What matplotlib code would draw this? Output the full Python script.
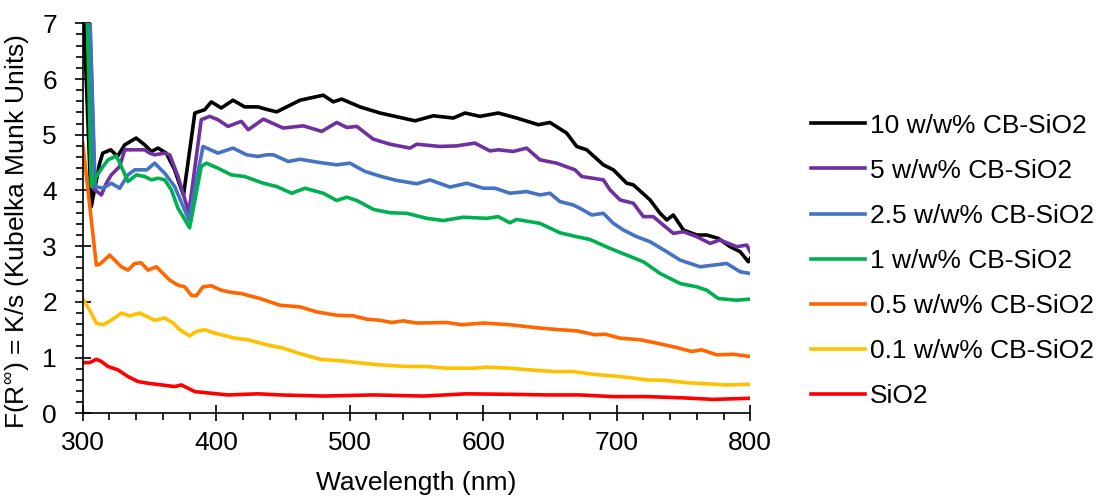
import matplotlib
matplotlib.use("Agg")
import matplotlib.pyplot as plt

plt.rcParams['font.family'] = ['Liberation Sans', 'DejaVu Sans']
plt.rcParams['mathtext.fontset'] = 'custom'
plt.rcParams['mathtext.rm'] = 'Liberation Sans'

# 10 w/w% CB-SiO2
wl_10 = [300, 306.4, 312.7, 315, 321, 326, 331.5, 340, 346.4, 351.4, 356.4, 362.6, 368.9,
         372, 375.5, 384, 391.4, 396.3, 403.8, 412.6, 421.3, 431.3, 437, 445.3, 462.8, 480.2,
         487.7, 494, 507.7, 522.7, 537.7, 549, 562.6, 577.6, 586.4, 597.6, 611.3, 625.1,
         641.3, 650, 662.5, 670, 677.5, 690, 697.5, 707.5, 712.5, 725, 732.5, 737.5, 742.4,
         750, 760, 767.4, 776.1, 785, 792.5, 798.6, 800]
f_10 = [7.6, 3.71, 4.49, 4.67, 4.73, 4.61, 4.82, 4.94, 4.82, 4.70, 4.76, 4.67, 4.37,
        4.15, 3.92, 5.39, 5.45, 5.59, 5.48, 5.62, 5.50, 5.50, 5.46, 5.41, 5.62, 5.71,
        5.59, 5.64, 5.50, 5.39, 5.31, 5.25, 5.34, 5.30, 5.39, 5.33, 5.39, 5.30,
        5.18, 5.22, 5.03, 4.79, 4.73, 4.46, 4.37, 4.13, 4.10, 3.83, 3.59, 3.47, 3.56,
        3.29, 3.20, 3.20, 3.14, 2.99, 2.90, 2.72, 2.78]

# 5 w/w% CB-SiO2
wl_5 = [303, 309, 314, 317.7, 321.4, 327.7, 331.5, 336.4, 346.4, 350.2, 353.9, 361.4, 365.2,
        371.4, 379.5, 388.8, 395.1, 401.3, 408.8, 418.8, 424, 435.3, 450.2, 465.2, 479,
        490.3, 497.8, 505.3, 517.7, 530.2, 545.2, 550.2, 567.6, 580.1, 593.8, 605, 611.3,
        622.5, 632.5, 642.5, 655, 668.8, 673.8, 690, 695, 702.5, 712.5, 720, 727.4, 742.4,
        750, 760, 769.9, 777.4, 789.9, 797.4, 800]
f_5 = [9.0, 4.01, 3.92, 4.13, 4.28, 4.43, 4.73, 4.73, 4.73, 4.67, 4.64, 4.67, 4.64,
       4.25, 3.60, 5.27, 5.33, 5.27, 5.15, 5.24, 5.09, 5.28, 5.12, 5.16, 5.06,
       5.22, 5.13, 5.15, 4.92, 4.83, 4.76, 4.83, 4.79, 4.80, 4.85, 4.71, 4.73,
       4.70, 4.76, 4.55, 4.49, 4.37, 4.25, 4.19, 4.01, 3.83, 3.77, 3.53, 3.53, 3.23,
       3.26, 3.17, 3.05, 3.11, 2.99, 3.02, 2.90]

# 2.5 w/w% CB-SiO2
wl_25 = [303, 309.3, 315.2, 321.4, 327.7, 333.9, 338.9, 348, 353.9, 361.4, 368.9, 379.5,
         390.1, 401.3, 412.6, 422.8, 431.3, 437.8, 442.8, 454, 462.8, 477.8, 490.3, 500.2,
         511.5, 525.2, 535.2, 550.2, 560.1, 575.1, 587.6, 600.1, 608.8, 620, 632.5, 642.5,
         650, 657.5, 667.4, 672.5, 681.3, 690, 697.5, 705, 715, 725, 737.5, 747.5, 762.5,
         772.4, 782.4, 792.5, 800]
f_25 = [9.0, 4.07, 4.04, 4.13, 4.04, 4.28, 4.37, 4.37, 4.49, 4.31, 4.07, 3.47,
        4.79, 4.67, 4.76, 4.64, 4.61, 4.64, 4.64, 4.52, 4.56, 4.50, 4.46, 4.49,
        4.34, 4.24, 4.18, 4.12, 4.19, 4.06, 4.13, 4.04, 4.04, 3.95, 3.98, 3.92,
        3.95, 3.80, 3.74, 3.68, 3.56, 3.59, 3.41, 3.29, 3.17, 3.08, 2.90, 2.75, 2.63,
        2.66, 2.69, 2.54, 2.51]

# 1 w/w% CB-SiO2
wl_1 = [301, 306.4, 310.2, 315.2, 319, 325.2, 328.9, 333.9, 340.2, 346.4, 351.4, 356.4,
        361.4, 366.4, 371.4, 380.1, 388.8, 392.6, 401.3, 411.3, 421.3, 435.3, 445.3, 456.5,
        466.5, 480.2, 490.3, 497.8, 505.3, 517.7, 530.2, 542.7, 557.7, 570.1, 585.1, 602.6,
        611.3, 620, 625, 642.5, 657.5, 670, 680, 695, 707.5, 720, 732.5, 747.5, 760, 767.4,
        776.1, 789.9, 800]
f_1 = [9.5, 4.07, 4.25, 4.43, 4.55, 4.62, 4.43, 4.16, 4.28, 4.25, 4.19, 4.22,
       4.19, 4.01, 3.68, 3.33, 4.43, 4.49, 4.40, 4.28, 4.25, 4.13, 4.07, 3.95,
       4.04, 3.95, 3.82, 3.88, 3.82, 3.66, 3.60, 3.59, 3.50, 3.46, 3.52, 3.50,
       3.53, 3.42, 3.48, 3.41, 3.24, 3.17, 3.12, 2.96, 2.84, 2.72, 2.51, 2.33, 2.27, 2.21,
       2.06, 2.03, 2.05]

# 0.5 w/w% CB-SiO2
wl_05 = [300, 310.2, 313, 320.2, 328.9, 333.9, 338.9, 343.9, 348.9, 355.2, 358.9, 365.2,
         371.4, 376.4, 381.3, 385.1, 390.1, 396.3, 403.8, 411.3, 418.8, 432.8, 447.8, 462.8,
         475.3, 490.3, 502.7, 512.7, 522.7, 531.5, 540.2, 550.2, 572.7, 583.9, 600.1, 620,
         642.5, 657.5, 670, 683.8, 691.3, 702.5, 717.5, 730, 745, 756.2, 763.7, 774.9,
         787.4, 800]
f_05 = [4.85, 2.66, 2.68, 2.84, 2.63, 2.57, 2.69, 2.70, 2.57, 2.63, 2.54, 2.39,
        2.30, 2.27, 2.12, 2.11, 2.27, 2.29, 2.21, 2.17, 2.15, 2.06, 1.94, 1.91,
        1.82, 1.76, 1.75, 1.69, 1.67, 1.63, 1.66, 1.62, 1.63, 1.59, 1.62, 1.59,
        1.53, 1.50, 1.48, 1.41, 1.42, 1.35, 1.32, 1.26, 1.18, 1.11, 1.14, 1.05,
        1.06, 1.02]

# 0.1 w/w% CB-SiO2
wl_01 = [300, 305.2, 310.2, 315.2, 321.4, 328.9, 335.2, 342.7, 353.9, 361.4, 367.7, 372.7,
         380.1, 385.1, 391.4, 398.9, 413.8, 423.8, 437.8, 450.2, 461.5, 477.8, 495.2, 505.3,
         522.7, 542.7, 557.7, 572.7, 592.6, 602.6, 620, 635, 652.5, 667.4, 682.5, 697.5,
         710, 722.5, 737.5, 752.4, 767.4, 782.4, 800]
f_01 = [2.06, 1.85, 1.62, 1.59, 1.67, 1.80, 1.75, 1.80, 1.67, 1.71, 1.62, 1.50,
        1.39, 1.47, 1.50, 1.44, 1.35, 1.32, 1.23, 1.17, 1.08, 0.97, 0.94, 0.91,
        0.87, 0.84, 0.84, 0.81, 0.81, 0.83, 0.81, 0.78, 0.75, 0.75, 0.70, 0.67,
        0.64, 0.60, 0.59, 0.55, 0.53, 0.51, 0.52]

# SiO2
wl_si = [300, 305.2, 310.2, 314, 319, 326.4, 333.9, 341.4, 348.9, 358.9, 368.9, 373.9,
         383.9, 396.3, 408.8, 431.3, 447.8, 480.2, 517.7, 555.2, 587.6, 622.5, 647.5,
         672.5, 697.5, 722.5, 747.5, 772.4, 800]
f_si = [0.91, 0.91, 0.97, 0.93, 0.84, 0.78, 0.66, 0.57, 0.54, 0.51, 0.48, 0.51,
        0.39, 0.36, 0.33, 0.35, 0.33, 0.31, 0.33, 0.31, 0.35, 0.34, 0.33,
        0.33, 0.30, 0.30, 0.28, 0.25, 0.27]

series = [
    ("10 w/w% CB-SiO2", wl_10, f_10, "#000000"),
    ("5 w/w% CB-SiO2", wl_5, f_5, "#7030A0"),
    ("2.5 w/w% CB-SiO2", wl_25, f_25, "#4472C4"),
    ("1 w/w% CB-SiO2", wl_1, f_1, "#00B050"),
    ("0.5 w/w% CB-SiO2", wl_05, f_05, "#FF6600"),
    ("0.1 w/w% CB-SiO2", wl_01, f_01, "#FFC000"),
    ("SiO2", wl_si, f_si, "#FF0000"),
]

fs = 19

fig = plt.figure(figsize=(11, 4.96), dpi=100)
ax = fig.add_axes([0.0752, 0.1667, 0.6068, 0.7863])

for label, x, y, c in series:
    ax.plot(x, y, color=c, lw=2.6, label=label)

ax.set_xlim(300, 800)
ax.set_ylim(0, 7)
ax.set_xticks(range(300, 801, 100))
ax.set_xticks(range(300, 801, 20), minor=True)
ax.set_yticks(range(0, 8))
ax.set_yticks([i * 0.2 for i in range(36)], minor=True)

for s in ['top', 'right']:
    ax.spines[s].set_visible(False)
for s in ['left', 'bottom']:
    ax.spines[s].set_linewidth(1.2)

ax.tick_params(which='major', direction='inout', length=11, width=1.2, labelsize=fs)
ax.tick_params(axis='x', which='major', pad=7)
ax.tick_params(axis='y', which='major', pad=13)
ax.tick_params(which='minor', direction='out', length=5, width=1.2)

ax.set_xlabel("Wavelength (nm)", fontsize=fs, labelpad=12)
ax.set_ylabel(r"F(R$^{\infty}$) = K/s (Kubelka Munk Units)", fontsize=fs)
ax.yaxis.set_label_coords(-0.076, 0.465)

ax.legend(loc='center left', bbox_to_anchor=(0.737, 0.474), bbox_transform=fig.transFigure,
          frameon=False, fontsize=fs, handlelength=2.05, handletextpad=0.18,
          labelspacing=0.8, borderpad=0, borderaxespad=0)

fig.savefig("out.png", dpi=100)
